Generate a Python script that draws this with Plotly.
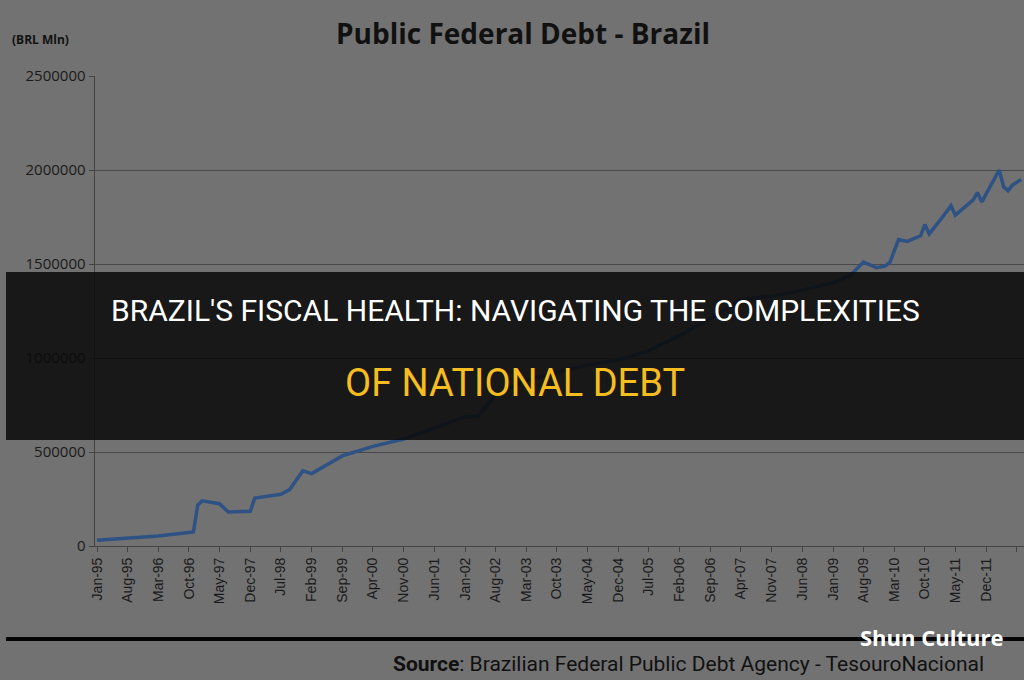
import plotly.graph_objects as go

# Debt stock (BRL mln) at selected months
months = ["1995-01", "1995-08", "1996-03", "1996-10", "1996-11", "1996-12", "1997-01",
          "1997-05", "1997-07", "1997-12", "1998-01", "1998-07", "1998-09", "1998-12",
          "1999-02", "1999-09", "2000-04", "2000-11", "2001-06", "2002-01", "2002-04",
          "2002-08", "2003-03", "2003-10", "2004-05", "2004-12", "2005-07", "2006-02",
          "2006-09", "2007-04", "2007-11", "2008-06", "2009-01", "2009-05", "2009-08",
          "2009-11", "2010-01", "2010-02", "2010-04", "2010-06", "2010-09", "2010-10",
          "2010-11", "2011-02", "2011-04", "2011-05", "2011-09", "2011-10", "2011-11",
          "2012-03", "2012-04", "2012-05", "2012-06", "2012-08"]
debt = [30000, 40000, 53000, 72000, 75000, 218000, 240000,
        225000, 181000, 185000, 255000, 275000, 300000, 400000,
        385000, 479000, 530000, 569000, 628000, 686000, 690000,
        803000, 883000, 925000, 963000, 989000, 1040000, 1120000,
        1210000, 1310000, 1330000, 1360000, 1400000, 1440000, 1510000,
        1480000, 1490000, 1510000, 1630000, 1620000, 1650000, 1710000,
        1660000, 1750000, 1810000, 1760000, 1840000, 1880000, 1830000,
        2000000, 1910000, 1890000, 1920000, 1950000]

tick_dates = ["%d-%02d-01" % (1995 + (m // 12), m % 12 + 1) for m in range(0, 211, 7)]
mon = ["Jan", "Feb", "Mar", "Apr", "May", "Jun", "Jul", "Aug", "Sep", "Oct", "Nov", "Dec"]
tick_text = ["%s-%02d" % (mon[m % 12], (95 + m // 12) % 100) for m in range(0, 211, 7)]
y_ticks = [0, 500000, 1000000, 1500000, 2000000, 2500000]


def py(pix):
    # page pixel row -> paper y (plot spans rows 76..546)
    return (546 - pix) / 470


fig = go.Figure()
fig.add_trace(go.Scatter(x=[m + "-01" for m in months], y=debt, mode="lines",
                         line=dict(color="#2e5284", width=3.5)))

fig.update_layout(
    width=1024, height=680, margin=dict(l=0, r=0, t=76, b=134),
    paper_bgcolor="#727272", plot_bgcolor="#727272", showlegend=False,
    font=dict(family="Liberation Sans, Arial", color="#1a1a1a"),
    xaxis=dict(domain=[0.087, 1], range=["1994-12-15", "2012-08-20"],
               tickvals=tick_dates, ticktext=tick_text, tickangle=-90,
               tickfont=dict(size=14), showgrid=False, showline=True,
               linecolor="#444", ticks="outside", ticklen=5, tickcolor="#444"),
    yaxis=dict(range=[0, 2500000], tickvals=y_ticks, ticktext=[str(v) for v in y_ticks],
               tickfont=dict(size=15, family="Open Sans"), gridcolor="#4a4a4a",
               showline=True, linecolor="#444", ticks="outside", ticklen=5,
               tickcolor="#444", zeroline=False),
    shapes=[
        dict(type="rect", xref="paper", yref="paper", x0=0, x1=1,
             y0=py(440), y1=py(272),
             fillcolor="rgba(10,10,10,0.87)", line_width=0, layer="above"),
        dict(type="line", xref="paper", yref="paper", x0=0, x1=1,
             y0=py(639), y1=py(639), line=dict(color="#050505", width=4)),
    ],
)

notes = [
    ("<b>Public Federal Debt - Brazil</b>", 0.508, 33, "center", 28, "#111", "Open Sans"),
    ("<b>(BRL Mln)</b>", 0.004, 40, "left", 12, "#111", "Open Sans"),
    ("BRAZIL'S FISCAL HEALTH: NAVIGATING THE COMPLEXITIES", 0.5, 310, "center", 30, "white", "Roboto"),
    ("OF NATIONAL DEBT", 0.5, 383, "center", 38, "#f5bd1f", "Roboto"),
    ("<b>Shun Culture</b>", 0.909, 637, "center", 22, "white", "Open Sans"),
    ("<b>Source</b>: Brazilian Federal Public Debt Agency - TesouroNacional", 0.378, 664,
     "left", 21, "#111", "Roboto"),
]
for text, x, row, xa, size, color, fam in notes:
    fig.add_annotation(text=text, xref="paper", yref="paper", x=x, y=py(row),
                       xanchor=xa, yanchor="middle", showarrow=False,
                       font=dict(size=size, color=color, family=fam))

fig.write_html("out.html", config={"displayModeBar": False},
               post_script="document.body.style.margin='0';")
